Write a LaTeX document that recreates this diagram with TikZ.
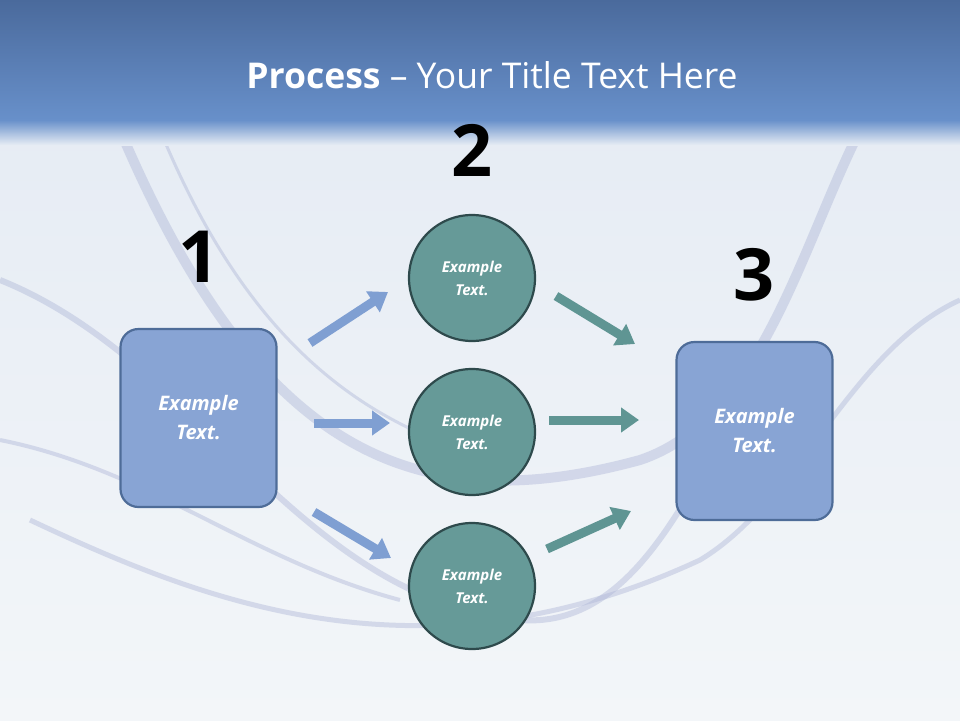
\documentclass[tikz,border=0pt]{standalone}
\usepackage{fontspec}
\setmainfont{Open Sans}
\usetikzlibrary{arrows.meta}
\definecolor{boxfill}{HTML}{88A4D4}
\definecolor{boxline}{HTML}{4E6C98}
\definecolor{circfill}{HTML}{669A98}
\definecolor{circline}{HTML}{2E4A4C}
\definecolor{barrow}{HTML}{7F9FD2}
\definecolor{tarrow}{HTML}{5F9593}
\definecolor{hdtop}{HTML}{4A6A9C}
\definecolor{hdbot}{HTML}{6890CA}
\definecolor{bgtop}{HTML}{E6ECF4}
\definecolor{bgbot}{HTML}{F3F6F9}
\definecolor{swoosh}{HTML}{B0B8D8}
\begin{document}
\begin{tikzpicture}[x=1pt,y=-1pt,
  box/.style={draw=boxline,line width=2.2pt,fill=boxfill,rounded corners=18pt,minimum width=156pt,minimum height=178pt,text=white,font=\bfseries\itshape\fontsize{20}{29}\selectfont,align=center},
  circ/.style={circle,draw=circline,line width=2.2pt,fill=circfill,minimum size=126pt,text=white,font=\bfseries\itshape\fontsize{15}{23}\selectfont,align=center},
  num/.style={font=\bfseries\fontsize{72}{72}\selectfont},
  barr/.style={barrow,line width=9pt,-{Triangle[width=24pt,length=18pt]}},
  tarr/.style={tarrow,line width=9pt,-{Triangle[width=24pt,length=18pt]}}]
\useasboundingbox (0,0) rectangle (960,720);
\shade[top color=bgtop,bottom color=bgbot] (0,120) rectangle (960,720);
% swooshes
\begin{scope}[swoosh,opacity=0.45,line width=10pt]
\draw (120,130) .. controls (260,460) and (420,520) .. (640,460) .. controls (760,420) and (800,250) .. (860,130);
\draw[line width=6pt] (0,280) .. controls (200,360) and (300,600) .. (520,620) .. controls (650,630) and (700,450) .. (760,380);
\draw[line width=4pt] (0,440) .. controls (150,470) and (250,560) .. (400,600);
\draw[line width=5pt] (30,520) .. controls (200,600) and (420,690) .. (700,560) .. controls (800,500) and (850,350) .. (960,300);
\draw[line width=3pt] (160,130) .. controls (230,300) and (330,420) .. (500,460);
\end{scope}
% header
\shade[top color=hdtop,bottom color=hdbot] (0,0) rectangle (960,120);
\shade[top color=hdbot,bottom color=bgtop] (0,120) rectangle (960,145);
\node[text=white,font=\fontsize{35.5}{42}\selectfont] (title) at (492,75) {\textbf{Process} -- Your Title Text Here};
% nodes
\node[box] (b1) at (198.5,418) {Example\\Text.};
\node[box] (b3) at (754.5,431) {Example\\Text.};
\node[circ] (c1) at (472,278) {Example\\Text.};
\node[circ] (c2) at (472,432) {Example\\Text.};
\node[circ] (c3) at (472,586) {Example\\Text.};
\node[num] (n1) at (199,257) {1};
\node[num] (n2) at (472,150) {2};
\node[num] (n3) at (754,275) {3};
% arrows
\coordinate (a1s) at (310,343); \coordinate (a1e) at (388,292);
\coordinate (a2s) at (314,423); \coordinate (a2e) at (390,423);
\coordinate (a3s) at (314,512); \coordinate (a3e) at (391,558);
\coordinate (t1s) at (556,296); \coordinate (t1e) at (635,344);
\coordinate (t2s) at (549,420); \coordinate (t2e) at (639,420);
\coordinate (t3s) at (547,549); \coordinate (t3e) at (631,511);
\draw[barr] (a1s) -- (a1e);
\draw[barr] (a2s) -- (a2e);
\draw[barr] (a3s) -- (a3e);
\draw[tarr] (t1s) -- (t1e);
\draw[tarr] (t2s) -- (t2e);
\draw[tarr] (t3s) -- (t3e);
\end{tikzpicture}
\end{document}
